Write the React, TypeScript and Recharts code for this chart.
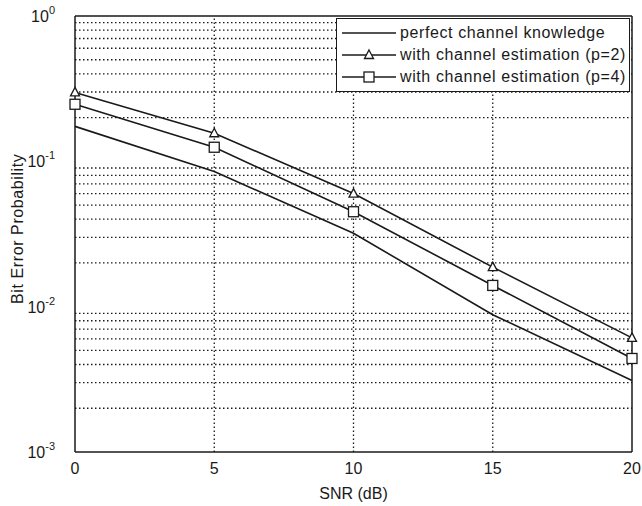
import { LineChart, Line, XAxis, YAxis, ReferenceLine } from 'recharts'

const snr = [0, 5, 10, 15, 20]
const perfect = [0.174, 0.085, 0.032, 0.0088, 0.0031]
const estP2 = [0.298, 0.156, 0.06, 0.0187, 0.0061]
const estP4 = [0.247, 0.125, 0.045, 0.014, 0.0044]
const yTicks = [0.001, 0.01, 0.1, 1]
const yExp = ['-3', '-2', '-1', '0']
const xTicks = [0, 5, 10, 15, 20]
const minorY = [0.001, 0.01, 0.1].flatMap((d) => [2, 3, 4, 5, 6, 7, 8, 9].map((m) => m * d))
const legendItems = [
  { label: 'perfect channel knowledge', mark: '' },
  { label: 'with channel estimation (p=2)', mark: 'tri' },
  { label: 'with channel estimation (p=4)', mark: 'sq' },
]

const rows = snr.map((s, i) => ({ snr: s, perfect: perfect[i], p2: estP2[i], p4: estP4[i] }))

const FONT = 'Liberation Sans, Arial, sans-serif'
const INK = '#1a1a1a'

const Triangle = (props: any) => {
  const { cx, cy } = props
  if (cx == null || cy == null) return null
  return <path d={`M${cx},${cy - 5} L${cx + 4.5},${cy + 3.5} L${cx - 4.5},${cy + 3.5} Z`} fill="#fff" stroke={INK} strokeWidth={1.3} />
}
const Square = (props: any) => {
  const { cx, cy } = props
  if (cx == null || cy == null) return null
  return <rect x={cx - 5} y={cy - 5} width={10} height={10} fill="#fff" stroke={INK} strokeWidth={1.3} />
}

const YTick = (props: any) => {
  const { x, y, index } = props
  return (
    <text x={x - 12} y={y + 6} textAnchor="end" fontFamily={FONT} fontSize={16} fill={INK}>
      10
      <tspan dy={-8} fontSize={11}>{yExp[index]}</tspan>
    </text>
  )
}

const LegendBox = () => (
  <div
    style={{
      position: 'absolute', left: 336, top: 18, width: 292, border: `1.5px solid ${INK}`,
      background: '#fff', padding: '3px 0 3px 0', fontFamily: FONT,
    }}
  >
    {legendItems.map((it) => (
      <div key={it.label} style={{ display: 'flex', alignItems: 'center', height: 22 }}>
        <svg width={56} height={14} style={{ marginLeft: 4 }}>
          <line x1={1} y1={7} x2={55} y2={7} stroke={INK} strokeWidth={1.5} />
          {it.mark === 'tri' && <Triangle cx={28} cy={7} />}
          {it.mark === 'sq' && <Square cx={28} cy={7} />}
        </svg>
        <span style={{ fontSize: 16, color: INK, marginLeft: 3, letterSpacing: 0.6, whiteSpace: 'nowrap' }}>{it.label}</span>
      </div>
    ))}
  </div>
)

export default function App() {
  return (
    <div style={{ position: 'absolute', left: 0, top: 0, background: '#fff' }}>
      <LineChart width={642} height={506} data={rows} margin={{ top: 16, right: 10, bottom: 24, left: 25 }}>
        <XAxis
          dataKey="snr"
          type="number"
          domain={[0, 20]}
          ticks={xTicks}
          tickLine={false}
          axisLine={{ stroke: INK, strokeWidth: 1.5 }}
          tick={{ fontSize: 16, fill: INK, fontFamily: FONT }}
          tickMargin={5}
          height={30}
          label={{ value: 'SNR (dB)', position: 'insideBottom', offset: -17, fontSize: 16, fill: INK, fontFamily: FONT }}
        />
        <YAxis
          scale="log"
          domain={[0.001, 1]}
          ticks={yTicks}
          allowDataOverflow
          width={50}
          tickLine={false}
          axisLine={{ stroke: INK, strokeWidth: 1.5 }}
          tick={<YTick />}
          label={{ value: 'Bit Error Probability', angle: -90, position: 'insideLeft', offset: -8, dy: 70, fontSize: 16, letterSpacing: 0.6, fill: INK, fontFamily: FONT }}
        />
        {minorY.map((v) => (
          <ReferenceLine key={`h${v}`} y={v} stroke={INK} strokeWidth={1.3} strokeDasharray="1.5 2.5" />
        ))}
        {[5, 10, 15].map((v) => (
          <ReferenceLine key={`v${v}`} x={v} stroke={INK} strokeWidth={1.3} strokeDasharray="1.5 2.5" />
        ))}
        <ReferenceLine y={1} stroke={INK} strokeWidth={1.5} />
        <ReferenceLine x={20} stroke={INK} strokeWidth={1.5} />
        <Line dataKey="perfect" stroke={INK} strokeWidth={1.6} dot={false} isAnimationActive={false} />
        <Line dataKey="p2" stroke={INK} strokeWidth={1.6} dot={<Triangle />} isAnimationActive={false} />
        <Line dataKey="p4" stroke={INK} strokeWidth={1.6} dot={<Square />} isAnimationActive={false} />
      </LineChart>
      <LegendBox />
    </div>
  )
}
